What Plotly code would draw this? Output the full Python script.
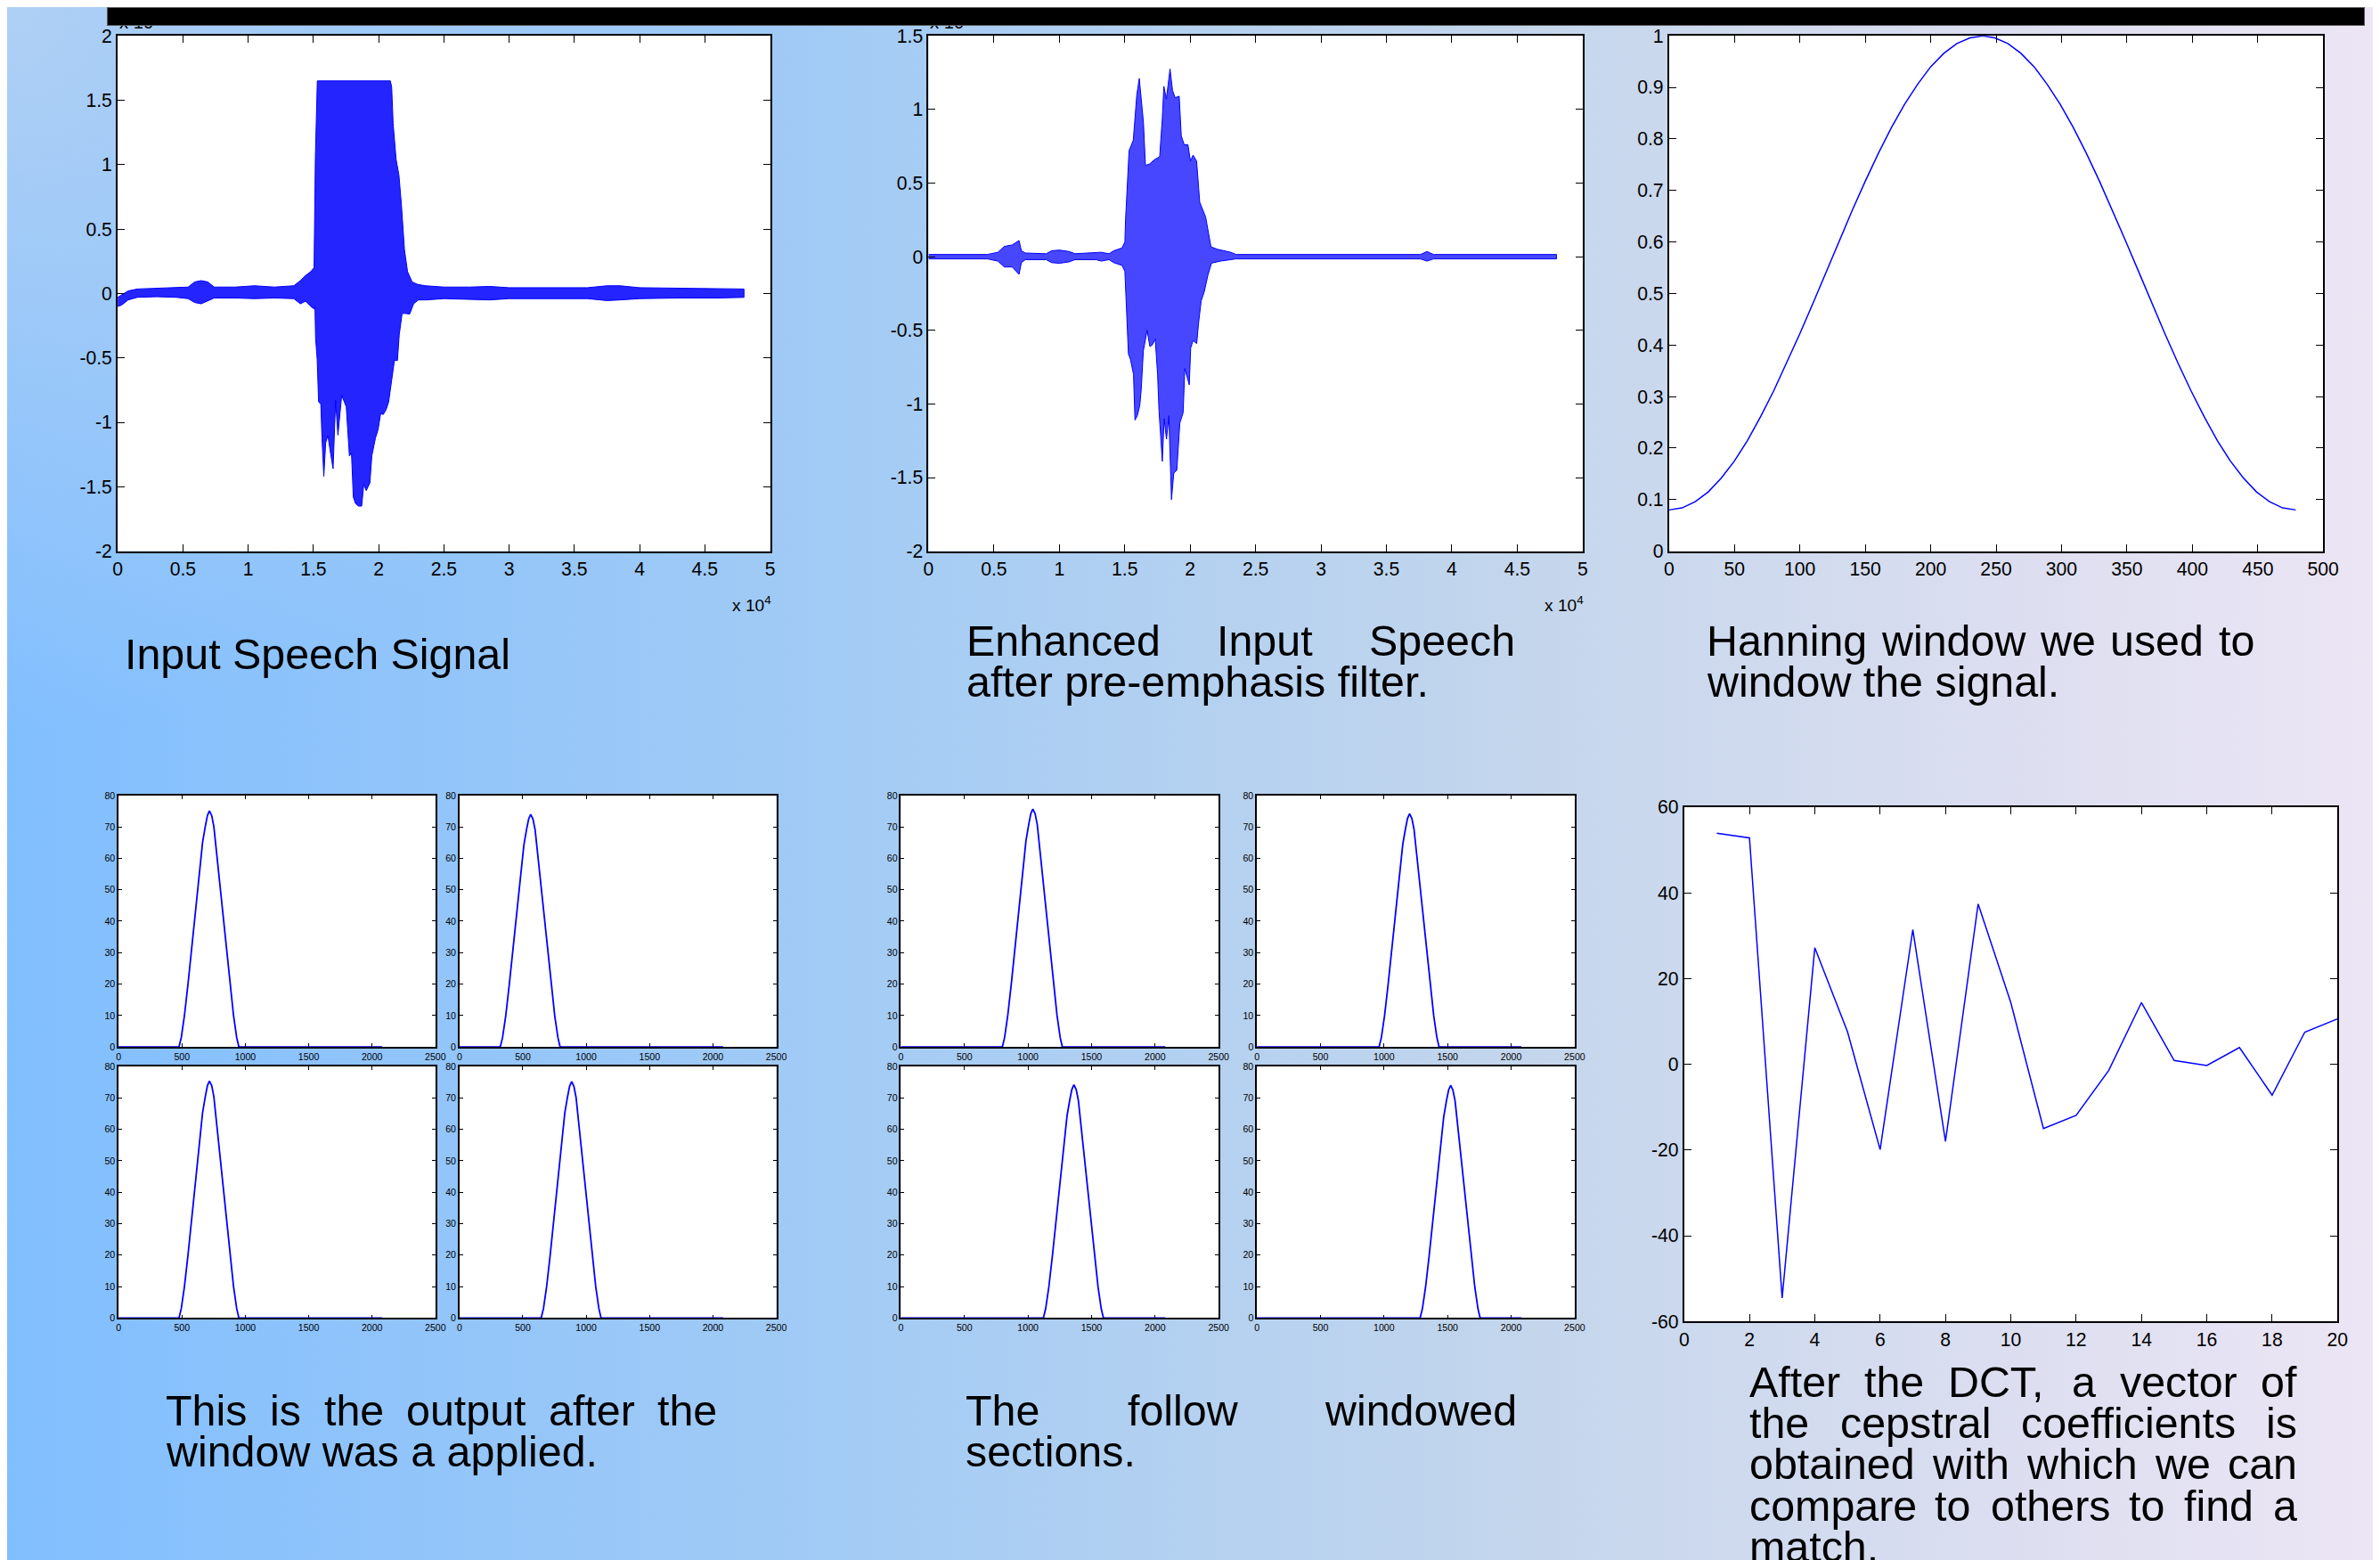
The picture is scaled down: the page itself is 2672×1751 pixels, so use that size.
import base64
import plotly.graph_objects as go

W, H = 2672, 1751          # target picture size
FW, FH = 2672, 1751        # figure size (CSS px)
# measured placement of the figure inside the photographed picture
AX, AY = 12.8, 19.8        # picture position of the figure's top-left corner
SX, SY = 2650.0 / FW, 1726.7 / FH   # picture pixels per figure pixel
FONT = "Liberation Sans"
BLUE = "#0000FF"

# ---------------- data ----------------
sig1_top_x = [0, 300, 800, 1500, 3000, 4500, 5400, 5900, 6400, 6900, 7400, 9000, 10500, 12000, 13500, 14000,
              14400, 14800, 15050, 15150, 15300, 20900, 21000, 21110, 21340, 21555, 21745, 21980, 22215, 22565,
              23000, 23600, 25000, 27000, 28500, 30000, 33000, 36000, 37500, 38500, 40000, 43000, 46000, 48000]
sig1_top_y = [-0.03, -0.01, 0.02, 0.035, 0.04, 0.045, 0.05, 0.09, 0.10, 0.09, 0.05, 0.05, 0.06, 0.05, 0.06, 0.10,
              0.14, 0.17, 0.20, 1.05, 1.65, 1.65, 1.60, 1.32, 1.04, 0.92, 0.69, 0.34, 0.17, 0.09,
              0.07, 0.06, 0.05, 0.05, 0.055, 0.045, 0.045, 0.045, 0.06, 0.06, 0.045, 0.04, 0.04, 0.035]
sig1_bot_x = [0, 300, 800, 1500, 3000, 4500, 5400, 5900, 6400, 6900, 7400, 9000, 10500, 12000, 13500, 14000,
              14400, 14800, 15050,
              15120, 15170, 15290, 15400, 15570, 15660, 15800, 15940, 16110, 16270, 16510, 16700, 16880, 17170,
              17520, 17760, 17920, 18060, 18230, 18460, 18700, 18860, 19050, 19330, 19480, 19760, 19950, 20160,
              20350, 20580, 20770, 20980, 21210, 21440, 21580, 21800, 22050, 22380,
              22680, 23040, 23600, 25000, 27000, 28500, 30000, 33000, 36000, 37500, 38500, 40000, 43000, 46000, 48000]
sig1_bot_y = [-0.10, -0.09, -0.05, -0.03, -0.025, -0.03, -0.04, -0.07, -0.08, -0.06, -0.035, -0.035, -0.04, -0.035,
              -0.04, -0.08, -0.06, -0.10, -0.12,
              -0.10, -0.35, -0.51, -0.84, -0.86, -1.12, -1.42, -1.16, -1.10, -1.21, -1.36, -0.83, -1.10, -0.79,
              -0.88, -1.26, -1.24, -1.58, -1.63, -1.65, -1.65, -1.48, -1.53, -1.47, -1.26, -1.12, -1.06, -0.93,
              -0.94, -0.90, -0.84, -0.69, -0.52, -0.52, -0.32, -0.155, -0.155, -0.16,
              -0.08, -0.05, -0.05, -0.04, -0.045, -0.05, -0.04, -0.04, -0.04, -0.055, -0.05, -0.04, -0.035, -0.035, -0.03]

sig2_top_x = [0, 4500, 5300, 5800, 6400, 6920, 7100, 7400, 9000, 9400, 10000, 10750, 11200, 12800, 13200, 13800,
              14150, 14800, 15010, 15060, 15150, 15250, 15330, 15650, 15800, 15920, 16110, 16310, 16430, 16580,
              16900, 17290, 17670, 17870, 17990, 18180, 18460, 18650, 18850, 19160, 19320, 19550, 19830, 20020,
              20220, 20490, 20730, 21180, 21360, 21590, 22090, 23110, 23500, 30000, 37600, 38100, 38600, 48000]
sig2_top_y = [0.015, 0.015, 0.03, 0.07, 0.08, 0.11, 0.04, 0.025, 0.02, 0.04, 0.045, 0.035, 0.02, 0.025, 0.03, 0.02,
              0.04, 0.06, 0.10, 0.25, 0.43, 0.55, 0.72, 0.79, 0.94, 1.10, 1.21, 1.03, 0.91, 0.62,
              0.63, 0.66, 0.68, 0.94, 1.157, 1.07, 1.275, 1.13, 1.08, 1.09, 0.82, 0.76, 0.76, 0.65,
              0.69, 0.65, 0.37, 0.27, 0.19, 0.067, 0.05, 0.03, 0.015, 0.015, 0.015, 0.035, 0.015, 0.015]
sig2_bot_x = [0, 4500, 5300, 5800, 6400, 6920, 7100, 7400, 9000, 9400, 10000, 10750, 11200, 12800, 13200, 13800,
              14150, 14800, 15010,
              15060, 15280, 15440, 15670, 15780, 15960, 16150, 16260, 16420, 16710, 16920, 17100, 17330, 17510,
              17620, 17870, 18010, 18190, 18370, 18570, 18750, 18980, 19210, 19460, 19590, 19930, 20040, 20220,
              20500, 20630, 20840, 21070, 21360, 21630, 22310, 23110,
              23500, 30000, 37600, 38100, 38600, 48000]
sig2_bot_y = [-0.015, -0.015, -0.03, -0.07, -0.07, -0.12, -0.04, -0.02, -0.02, -0.04, -0.045, -0.035, -0.02, -0.02,
              -0.03, -0.02, -0.04, -0.06, -0.10,
              -0.27, -0.66, -0.70, -0.80, -1.11, -1.08, -1.01, -0.90, -0.64, -0.50, -0.61, -0.60, -0.56, -0.80,
              -1.05, -1.39, -1.10, -1.24, -1.08, -1.65, -1.47, -1.45, -1.13, -1.06, -0.76, -0.87, -0.62, -0.57,
              -0.59, -0.46, -0.30, -0.24, -0.124, -0.044, -0.03, -0.02,
              -0.015, -0.015, -0.015, -0.03, -0.015, -0.015]

win_x = [0, 10, 20, 30, 40, 50, 60, 70, 80, 90, 100, 110, 120, 130, 140, 150, 160, 170, 180, 190, 200, 210, 220, 230,
         239, 240,
         249, 259, 269, 279, 289, 299, 309, 319, 329, 339, 349, 359, 369, 379, 389, 399, 409, 419, 429, 439, 449, 459,
         469, 479]
win_y = [0.080, 0.084, 0.096, 0.115, 0.142, 0.175, 0.215, 0.261, 0.311, 0.365, 0.422, 0.481, 0.542, 0.602, 0.661,
         0.718, 0.772, 0.822, 0.867, 0.906, 0.940, 0.966, 0.985, 0.996,
         1.000, 1.000,
         0.996, 0.985, 0.966, 0.940, 0.906, 0.867, 0.822, 0.772, 0.718, 0.661, 0.602, 0.542, 0.481, 0.422, 0.365,
         0.311, 0.261, 0.215, 0.175, 0.142, 0.115, 0.096, 0.084, 0.080]

dct_idx = [1, 2, 3, 4, 5, 6, 7, 8, 9, 10, 11, 12, 13, 14, 15, 16, 17, 18, 19, 20]
dct_val = [53.9, 52.8, -54.5, 27.2, 7.6, -19.9, 31.4, -18.0, 37.4, 14.4, -15.0, -11.9, -1.4, 14.4, 0.9, -0.3,
           3.9, -7.2, 7.5, 10.6]

frame_offsets = [0, 18, 43, 71, 96, 121, 146, 172, 186, 207, 224, 240, 258, 275, 300, 329, 354, 376, 401, 430, 455, 472]
frame_profile = [0, 3, 10, 20, 30, 40, 50, 60, 65, 70, 73.5, 75, 73.5, 70, 60, 50, 40, 30, 20, 10, 3, 0]
frame_starts = [477, 322, 477, 645, 798, 961, 1121, 1284]
frame_peaks = [75.1, 74.0, 75.4, 75.2, 75.7, 74.2, 74.2, 74.0]
frame_length = 2080

big_x_vals = [0, 5000, 10000, 15000, 20000, 25000, 30000, 35000, 40000, 45000, 50000]
big_x_text = ["0", "0.5", "1", "1.5", "2", "2.5", "3", "3.5", "4", "4.5", "5"]
p1_y_vals = [-2, -1.5, -1, -0.5, 0, 0.5, 1, 1.5, 2]
p1_y_text = ["-2", "-1.5", "-1", "-0.5", "0", "0.5", "1", "1.5", "2"]
p2_y_vals = [-2, -1.5, -1, -0.5, 0, 0.5, 1, 1.5]
p2_y_text = ["-2", "-1.5", "-1", "-0.5", "0", "0.5", "1", "1.5"]
win_x_vals = [0, 50, 100, 150, 200, 250, 300, 350, 400, 450, 500]
win_x_text = ["0", "50", "100", "150", "200", "250", "300", "350", "400", "450", "500"]
win_y_vals = [0, 0.1, 0.2, 0.3, 0.4, 0.5, 0.6, 0.7, 0.8, 0.9, 1]
win_y_text = ["0", "0.1", "0.2", "0.3", "0.4", "0.5", "0.6", "0.7", "0.8", "0.9", "1"]
dct_x_vals = [0, 2, 4, 6, 8, 10, 12, 14, 16, 18, 20]
dct_x_text = ["0", "2", "4", "6", "8", "10", "12", "14", "16", "18", "20"]
dct_y_vals = [-60, -40, -20, 0, 20, 40, 60]
dct_y_text = ["-60", "-40", "-20", "0", "20", "40", "60"]
sm_x_vals = [0, 500, 1000, 1500, 2000, 2500]
sm_x_text = ["0", "500", "1000", "1500", "2000", "2500"]
sm_y_vals = [0, 10, 20, 30, 40, 50, 60, 70, 80]
sm_y_text = ["0", "10", "20", "30", "40", "50", "60", "70", "80"]

caption1 = ["Input Speech Signal"]
caption2 = ["Enhanced Input Speech", "after pre-emphasis filter."]
caption3 = ["Hanning window we used to", "window the signal."]
caption4 = ["This is the output after the", "window was a applied."]
caption5 = ["The follow windowed", "sections."]
caption6 = ["After the DCT, a vector of", "the cepstral coefficients is", "obtained with which we can",
            "compare to others to find a", "match."]


# ---------------- helpers: target picture px -> paper fractions ----------------
def fx(x):
    return (x - AX) / (SX * FW)


def fy(y):
    return 1 - (y - AY) / (SY * FH)


KF = 1.0 / SX              # font-size compensation

layout = {}
shapes = []
fig = go.Figure()


def add_axes(n, xpx, ypx, xr, yr, xv, xt, yv, yt, fs, tlen, lw, layer="above traces"):
    xk = "xaxis" if n == 1 else f"xaxis{n}"
    yk = "yaxis" if n == 1 else f"yaxis{n}"
    xa = "x" if n == 1 else f"x{n}"
    ya = "y" if n == 1 else f"y{n}"
    common = dict(ticks="inside", ticklen=tlen, tickwidth=1.3, tickcolor="black", showline=True,
                  linewidth=lw, linecolor="black", mirror="ticks", showgrid=False, zeroline=False,
                  tickfont=dict(family=FONT, size=fs * KF, color="black"), tickmode="array",
                  fixedrange=True, layer=layer)
    layout[xk] = dict(domain=[fx(xpx[0]), fx(xpx[1])], range=xr, anchor=ya, tickvals=xv, ticktext=xt, **common)
    layout[yk] = dict(domain=[fy(ypx[1]), fy(ypx[0])], range=yr, anchor=xa, tickvals=yv, ticktext=yt, **common)
    shapes.append(dict(type="rect", xref=f"{xa} domain", yref=f"{ya} domain", x0=0, x1=1, y0=0, y1=1,
                       fillcolor="white", line=dict(width=0), layer="below"))
    return xa, ya


ax1 = add_axes(1, (131, 864), (40, 618), [0, 50000], [-2, 2], big_x_vals, big_x_text, p1_y_vals, p1_y_text,
               21, 8, 2)
ax2 = add_axes(2, (1042, 1777), (40, 618), [0, 50000], [-2, 1.5], big_x_vals, big_x_text, p2_y_vals, p2_y_text,
               21, 8, 2)
ax3 = add_axes(3, (1874, 2609), (40, 618), [0, 500], [0, 1], win_x_vals, win_x_text, win_y_vals, win_y_text,
               21, 8, 2)
ax4 = add_axes(4, (1891, 2625), (905, 1482), [0, 20], [-60, 60], dct_x_vals, dct_x_text, dct_y_vals, dct_y_text,
               21, 8, 2)

small_boxes = [((132, 488), (892, 1174)), ((515, 871), (892, 1174)),
               ((132, 488), (1196, 1478)), ((515, 871), (1196, 1478)),
               ((1011, 1368), (892, 1174)), ((1411, 1768), (892, 1174)),
               ((1011, 1368), (1196, 1478)), ((1411, 1768), (1196, 1478))]
small_axes = []
for i, (bx, by) in enumerate(small_boxes):
    small_axes.append(add_axes(5 + i, bx, by, [0, 2500], [0, 80], sm_x_vals, sm_x_text, sm_y_vals, sm_y_text,
                               10.5, 4, 1.5, layer="below traces"))

# ---------------- traces ----------------
fig.add_trace(go.Scatter(x=sig1_top_x + sig1_bot_x[::-1], y=sig1_top_y + sig1_bot_y[::-1], mode="lines",
                         fill="toself", fillcolor="rgba(0,0,255,0.86)", line=dict(color=BLUE, width=1),
                         xaxis=ax1[0], yaxis=ax1[1], hoverinfo="skip"))
fig.add_trace(go.Scatter(x=sig2_top_x + sig2_bot_x[::-1], y=sig2_top_y + sig2_bot_y[::-1], mode="lines",
                         fill="toself", fillcolor="rgba(0,0,255,0.72)", line=dict(color=BLUE, width=1),
                         xaxis=ax2[0], yaxis=ax2[1], hoverinfo="skip"))
fig.add_trace(go.Scatter(x=win_x, y=win_y, mode="lines", line=dict(color=BLUE, width=1.5),
                         xaxis=ax3[0], yaxis=ax3[1]))
fig.add_trace(go.Scatter(x=dct_idx, y=dct_val, mode="lines", line=dict(color=BLUE, width=1.5),
                         xaxis=ax4[0], yaxis=ax4[1]))

for i, (xa, ya) in enumerate(small_axes):
    st = frame_starts[i]
    pk = frame_peaks[i]
    px_ = [0] + [st + o for o in frame_offsets] + [frame_length]
    py_ = [0] + [v * pk / 75.0 for v in frame_profile] + [0]
    fig.add_trace(go.Scatter(x=px_, y=py_, mode="lines", line=dict(color=BLUE, width=1.8),
                             xaxis=xa, yaxis=ya))

# ---------------- text ----------------
ARIAL = {' ': 278, ',': 278, '-': 333, '.': 278,
         'A': 667, 'B': 667, 'C': 722, 'D': 722, 'E': 667, 'F': 611, 'G': 778, 'H': 722, 'I': 278, 'J': 500,
         'K': 667, 'L': 556, 'M': 833, 'N': 722, 'O': 778, 'P': 667, 'Q': 778, 'R': 722, 'S': 667, 'T': 611,
         'U': 722, 'V': 667, 'W': 944, 'X': 667, 'Y': 667, 'Z': 611,
         'a': 556, 'b': 556, 'c': 500, 'd': 556, 'e': 556, 'f': 278, 'g': 556, 'h': 556, 'i': 222, 'j': 222,
         'k': 500, 'l': 222, 'm': 833, 'n': 556, 'o': 556, 'p': 556, 'q': 556, 'r': 333, 's': 500, 't': 278,
         'u': 556, 'v': 500, 'w': 722, 'x': 500, 'y': 500, 'z': 500}
FS = 48                    # caption size in picture pixels
annotations = []


def tw(s, size):
    return sum(ARIAL.get(c, 556) for c in s) * size / 1000.0


def put(text, xpx, ycenter, size, anchor="left"):
    annotations.append(dict(text=text, x=fx(xpx), y=fy(ycenter), xref="paper", yref="paper",
                            xanchor=anchor, yanchor="middle", showarrow=False, borderpad=0,
                            font=dict(family=FONT, size=size * KF, color="black")))


def paragraph(lines, left, right, baseline0, step, justify=True):
    for k, line in enumerate(lines):
        yc = baseline0 + k * step - 0.3465 * FS
        last = (k == len(lines) - 1)
        words = line.split(" ")
        if justify and not last and len(words) > 1:
            total = sum(tw(w, FS) for w in words)
            gap = (right - left - total) / (len(words) - 1)
            x = left
            for w in words:
                put(w, x, yc, FS)
                x += tw(w, FS) + gap
        else:
            put(line, left, yc, FS)


paragraph(caption1, 138, 567, 750, 46, justify=False)
paragraph(caption2, 1084, 1699, 735, 45.7)
paragraph(caption3, 1915, 2531, 735, 45.7)
paragraph(caption4, 184, 803, 1598.3, 46)
paragraph(caption5, 1083, 1699, 1598.3, 46)
paragraph(caption6, 1963, 2578, 1566.7, 46)

# x-axis multipliers
put("x 10<sup>4</sup>", 866, 677, 19, "right")
put("x 10<sup>4</sup>", 1779, 677, 19, "right")
# y-axis multipliers, mostly hidden behind the black bar
for left in (132, 1043):
    put("x 10", left, 25, 20, "left")

# black bar across the top
annotations.append(dict(text=" ", x=fx(119), y=fy(8), xref="paper", yref="paper", xanchor="left",
                        yanchor="top", showarrow=False, width=2512 / SX, height=19 / SY, bgcolor="black",
                        borderpad=0, bordercolor="#5a5a5a", borderwidth=1,
                        font=dict(family=FONT, size=10, color="black")))

# ---------------- background gradient (extends a little past the figure edges) ----------------
BG_X0, BG_X1, BG_Y0, BG_Y1 = -20, 2700, -30, 1780
svg = '''<svg xmlns="http://www.w3.org/2000/svg" width="2720" height="1810">
<defs>
<linearGradient id="h" x1="0" y1="0" x2="1" y2="0">
<stop offset="0" stop-color="#80BEFF"/>
<stop offset="0.35" stop-color="#A2CBF5"/>
<stop offset="0.64" stop-color="#C4D6EC"/>
<stop offset="0.83" stop-color="#DBDEF0"/>
<stop offset="1" stop-color="#EDE6F5"/>
</linearGradient>
<radialGradient id="r" cx="20" cy="30" r="820" gradientUnits="userSpaceOnUse">
<stop offset="0" stop-color="#B0D0F4" stop-opacity="1"/>
<stop offset="1" stop-color="#B0D0F4" stop-opacity="0"/>
</radialGradient>
</defs>
<rect width="2720" height="1810" fill="url(#h)"/>
<rect width="2720" height="1810" fill="url(#r)"/>
</svg>'''
bg_src = "data:image/svg+xml;base64," + base64.b64encode(svg.encode()).decode()

layout.update(dict(
    width=FW, height=FH, margin=dict(l=0, r=0, t=0, b=0, pad=0),
    paper_bgcolor="#C4D6EC", plot_bgcolor="white", showlegend=False,
    annotations=annotations, shapes=shapes,
    images=[dict(source=bg_src, xref="paper", yref="paper", x=fx(BG_X0), y=fy(BG_Y0),
                 sizex=fx(BG_X1) - fx(BG_X0), sizey=fy(BG_Y0) - fy(BG_Y1),
                 xanchor="left", yanchor="top", sizing="stretch", layer="below")],
    font=dict(family=FONT, color="black"),
))
fig.update_layout(**layout)

fig.write_html("out.html", config={"displayModeBar": False})
